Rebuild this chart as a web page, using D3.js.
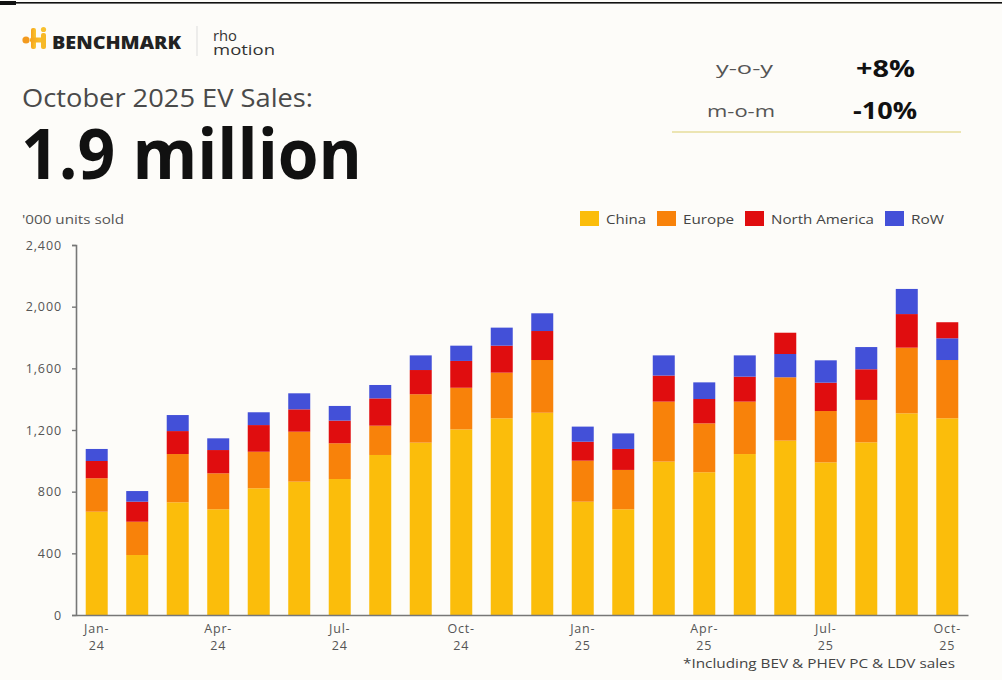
<!DOCTYPE html>
<html>
<head>
<meta charset="utf-8">
<script src="https://cdn.jsdelivr.net/npm/d3@7"></script>
<style>
  html, body { margin: 0; padding: 0; background: #fdfcf9; }
  svg { display: block; }
  text { font-family: "Open Sans", "Noto Sans", sans-serif; }
</style>
</head>
<body>
<svg id="chart" width="1002" height="680"></svg>
<script>
// Monthly EV sales, '000 units
const months = ["Jan-24","Feb-24","Mar-24","Apr-24","May-24","Jun-24","Jul-24","Aug-24","Sep-24","Oct-24","Nov-24","Dec-24",
                "Jan-25","Feb-25","Mar-25","Apr-25","May-25","Jun-25","Jul-25","Aug-25","Sep-25","Oct-25"];
const china        = [670, 389, 731, 686, 822, 865, 882, 1038, 1118, 1204, 1276, 1312, 735, 686, 995, 926, 1044, 1131, 990, 1120, 1308, 1276];
const europe       = [217, 216, 313, 233, 237, 324, 232, 190, 314, 270, 296, 342, 266, 255, 389, 317, 340, 411, 333, 275, 426, 378];
const northAmerica = [112, 130, 149, 151, 173, 145, 147, 177, 157, 174, 175, 188, 123, 136, 169, 158, 162, 138, 184, 199, 218, 104];
const restOfWorld  = [78, 69, 104, 76, 83, 104, 95, 87, 95, 99, 117, 115, 98, 101, 131, 108, 138, 151, 145, 144, 163, 141];
// Months where the RoW segment is stacked beneath North America
const rowBelowNA = ["Jun-25", "Oct-25"];

const yTicks = [0, 400, 800, 1200, 1600, 2000, 2400];
const xTickMonths = ["Jan-24","Apr-24","Jul-24","Oct-24","Jan-25","Apr-25","Jul-25","Oct-25"];

const seriesNames = ["China", "Europe", "North America", "RoW"];
const seriesValues = { "China": china, "Europe": europe, "North America": northAmerica, "RoW": restOfWorld };
const colors = { "China": "#fbbd0b", "Europe": "#f8820a", "North America": "#e00d0f", "RoW": "#4350d8" };

const svg = d3.select("#chart");

// helper: text fitted to a given width
function label(x, y, str, size, opts = {}) {
  const t = svg.append("text").attr("x", x).attr("y", y).attr("font-size", size)
    .attr("fill", opts.fill || "#444").text(str);
  if (opts.weight) t.attr("font-weight", opts.weight);
  if (opts.anchor) t.attr("text-anchor", opts.anchor);
  if (opts.width) t.attr("textLength", opts.width).attr("lengthAdjust", "spacingAndGlyphs");
  return t;
}

// Top rule
svg.append("rect").attr("x", 0).attr("y", 2).attr("width", 1002).attr("height", 1.6).attr("fill", "#111");
svg.append("rect").attr("x", 0).attr("y", 1).attr("width", 16).attr("height", 4).attr("fill", "#111");

// Benchmark logo mark
const logo = svg.append("g").attr("transform", "translate(22,27)");
const grad = svg.append("defs").append("linearGradient").attr("id", "lg").attr("x1", 0).attr("x2", 1);
grad.append("stop").attr("offset", 0).attr("stop-color", "#f6a21a");
grad.append("stop").attr("offset", 1).attr("stop-color", "#f9c631");
logo.append("circle").attr("cx", 4).attr("cy", 13).attr("r", 3.6).attr("fill", "#f39a1e");
logo.append("rect").attr("x", 9).attr("y", 1).attr("width", 5).attr("height", 21).attr("rx", 2).attr("fill", "url(#lg)");
logo.append("rect").attr("x", 8).attr("y", 10.5).attr("width", 14).attr("height", 5).attr("rx", 2).attr("fill", "url(#lg)");
logo.append("rect").attr("x", 19).attr("y", 6).attr("width", 5).attr("height", 16).attr("rx", 2).attr("fill", "#f7b927");
logo.append("circle").attr("cx", 21.5).attr("cy", 2.5).attr("r", 2.6).attr("fill", "#f8c12f");
label(52, 49, "BENCHMARK", 17.5, { weight: 800, fill: "#222", width: 129 });
svg.append("line").attr("x1", 197).attr("x2", 197).attr("y1", 26).attr("y2", 56).attr("stroke", "#ddd").attr("stroke-width", 1);

// rho motion wordmark, two stacked lines
const rm = svg.append("text").attr("font-size", 14).attr("fill", "#333");
rm.append("tspan").attr("x", 213).attr("y", 41).attr("textLength", 24).attr("lengthAdjust", "spacingAndGlyphs").text("rho");
rm.append("tspan").attr("x", 213).attr("y", 55).attr("textLength", 62).attr("lengthAdjust", "spacingAndGlyphs").text("motion");

// Headline
label(22, 107, "October 2025 EV Sales:", 25, { fill: "#4a4a4a", width: 291 });
label(21, 179, "1.9 million", 69, { weight: 700, fill: "#111", width: 341 });

// Growth box
label(716, 74, "y-o-y", 17, { fill: "#555", width: 57 });
label(856, 77, "+8%", 24, { weight: 700, fill: "#111", width: 59 });
label(707, 117, "m-o-m", 17, { fill: "#555", width: 68 });
label(853, 119, "-10%", 24, { weight: 700, fill: "#111", width: 64 });
svg.append("line").attr("x1", 672).attr("x2", 961).attr("y1", 132).attr("y2", 132).attr("stroke", "#ece5b3").attr("stroke-width", 2);

// Units note
label(22, 224, "'000 units sold", 12.5, { fill: "#555", width: 102 });

// Legend
const legendItems = [
  { name: "China", x: 580, w: 40 },
  { name: "Europe", x: 657, w: 51 },
  { name: "North America", x: 745, w: 103 },
  { name: "RoW", x: 885, w: 33 }
];
legendItems.forEach(d => {
  svg.append("rect").attr("x", d.x).attr("y", 211).attr("width", 19).attr("height", 15).attr("fill", colors[d.name]);
  label(d.x + 26, 224, d.name, 13.5, { fill: "#444", width: d.w });
});

// Scales
const x = d3.scaleBand().domain(months).range([76, 968]).paddingInner(0.457).paddingOuter(0.24);
const y = d3.scaleLinear().domain([0, 2400]).range([615, 245]);

// Stacked segments, built per month
const segments = [];
months.forEach((m, i) => {
  const order = rowBelowNA.includes(m)
    ? ["China", "Europe", "RoW", "North America"]
    : ["China", "Europe", "North America", "RoW"];
  let base = 0;
  order.forEach(s => {
    const v = seriesValues[s][i];
    segments.push({ month: m, series: s, y0: base, y1: base + v });
    base += v;
  });
});

svg.append("g").selectAll("rect").data(segments).join("rect")
  .attr("x", d => x(d.month))
  .attr("width", x.bandwidth())
  .attr("y", d => y(d.y1))
  .attr("height", d => y(d.y0) - y(d.y1))
  .attr("fill", d => colors[d.series]);

// Y axis
const yAxis = svg.append("g").attr("transform", "translate(76,0)")
  .call(d3.axisLeft(y).tickValues(yTicks).tickFormat(d3.format(",")).tickSize(4).tickPadding(10));
yAxis.select(".domain").attr("stroke", "#777").attr("stroke-width", 1.6);
yAxis.selectAll(".tick line").attr("stroke", "#777").attr("stroke-width", 1.4);
yAxis.selectAll(".tick text").attr("font-size", 12.5).attr("fill", "#555")
  .attr("letter-spacing", 0.9).attr("font-family", "'Open Sans', sans-serif");

// X axis
const xAxis = svg.append("g").attr("transform", "translate(0,615)")
  .call(d3.axisBottom(x).tickValues(xTickMonths).tickSize(0).tickFormat(""));
xAxis.select(".domain").attr("stroke", "#777").attr("stroke-width", 1.6);
xAxis.selectAll(".tick").each(function(d) {
  const parts = d.split("-");
  const t = d3.select(this).append("text").attr("fill", "#555").attr("font-size", 12.5)
    .attr("letter-spacing", 0.8).attr("text-anchor", "middle").attr("font-family", "'Open Sans', sans-serif");
  t.append("tspan").attr("x", 0).attr("y", 18).text(parts[0] + "-");
  t.append("tspan").attr("x", 0).attr("y", 35).text(parts[1]);
});

// Footnote
label(683, 668, "*Including BEV & PHEV PC & LDV sales", 13.5, { fill: "#444", width: 272 });
</script>
</body>
</html>
